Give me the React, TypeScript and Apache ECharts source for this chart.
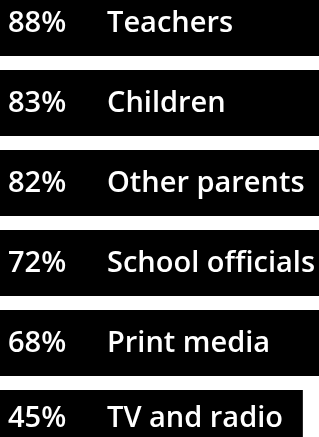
import React, { useEffect, useRef } from "react";
import * as echarts from "echarts";

const categories = ["Teachers", "Children", "Other parents", "School officials", "Print media", "TV and radio"];
const values = [88, 83, 82, 72, 68, 45];

export default function App() {
  const ref = useRef<HTMLDivElement>(null);
  useEffect(() => {
    if (!ref.current) return;
    const chart = echarts.init(ref.current, null, { renderer: "svg" });
    const txt = { color: "#fff", fontSize: 29, fontWeight: 600, fontFamily: "Open Sans", lineHeight: 22 };
    const last = values.length - 1;
    chart.setOption({
      animation: false,
      grid: { left: 0, right: 0, top: 0, bottom: 0, containLabel: false },
      xAxis: { type: "value", min: 0, max: 47.4, show: false },
      yAxis: { type: "category", data: categories, inverse: true, show: false },
      series: [
        {
          type: "bar",
          data: values.map((v, i) =>
            i === last ? { value: v, label: { offset: [0, -8] } } : v
          ),
          barCategoryGap: "17.5%",
          clip: true,
          itemStyle: { color: "#000" },
          label: {
            show: true,
            position: "insideLeft",
            distance: 8,
            offset: [0, -3],
            formatter: (p: any) => `{a|${p.value}%}{b|${p.name}}`,
            rich: {
              a: { ...txt, width: 99 },
              b: { ...txt },
            },
          },
        },
      ],
    });
    return () => chart.dispose();
  }, []);
  return (
    <div style={{ position: "fixed", left: 0, top: 0, width: 319, height: 437, overflow: "hidden" }}>
      <div ref={ref} style={{ position: "absolute", left: 0, top: -17, width: 319, height: 480 }} />
    </div>
  );
}
